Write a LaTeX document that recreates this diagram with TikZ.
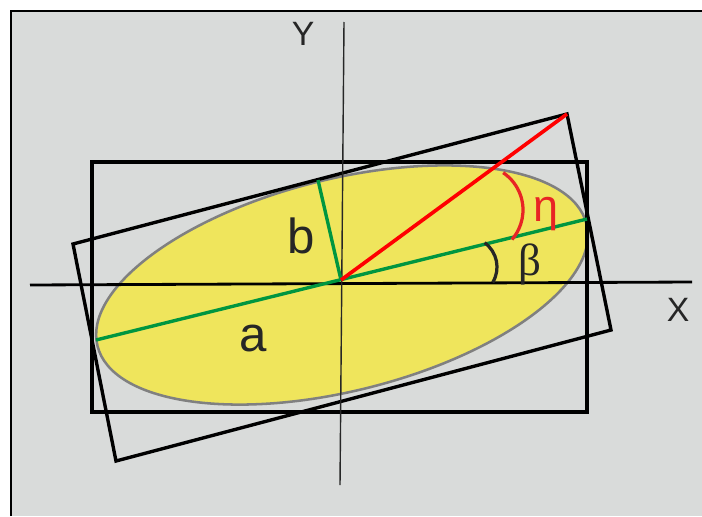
\documentclass[tikz,border=0pt]{standalone}
\usepackage{fontspec}
\setmainfont{Liberation Sans}
\newfontfamily\greekserif{Liberation Serif}
\usetikzlibrary{calc}
\definecolor{panelgray}{RGB}{217,219,218}
\definecolor{ellipseyellow}{RGB}{239,229,92}
\definecolor{axisgreen}{RGB}{0,150,64}
\definecolor{etared}{RGB}{232,36,36}
\definecolor{textdark}{RGB}{38,38,38}

\begin{document}
\begin{tikzpicture}[
    x=0.025cm, y=0.025cm,
    frame/.style={draw=black, line width=2.4pt},
    axisline/.style={draw=black, line width=2pt},
    greenline/.style={draw=axisgreen, line width=2.4pt},
    redline/.style={draw=red, line width=2.6pt},
    anglearc/.style={line width=2.3pt},
    biglabel/.style={inner sep=0pt, text=textdark, font=\fontsize{35}{40}\selectfont},
    axislabel/.style={inner sep=0pt, text=textdark, font=\fontsize{24}{28}\selectfont},
    greeklabel/.style={inner sep=0pt, font=\fontsize{32}{36}\selectfont}
]
  \useasboundingbox (0,0) rectangle (702,516);
  \fill[panelgray] (11,0) rectangle (702,505);
  \draw[line width=1.5pt] (11,0) -- (11,505) -- (702,505);

  \coordinate (ec) at (342,231);
  \draw[fill=ellipseyellow, draw=gray, line width=1.8pt, rotate around={14:(ec)}]
    (ec) ellipse [x radius=252, y radius=106];

  \coordinate (r1) at (73,272);
  \coordinate (r2) at (567,402);
  \coordinate (r3) at (611,186);
  \coordinate (r4) at (116,55);
  \draw[frame] (92,354) rectangle (587,104);
  \draw[frame] (r1) -- (r2) -- (r3) -- (r4) -- cycle;

  \coordinate (xl) at (30,231);
  \coordinate (xr) at (692,234);
  \coordinate (yb) at (340,31);
  \coordinate (yt) at (344,494);
  \draw[axisline] (xl) -- (xr);
  \draw[draw=textdark, line width=1pt] (yb) -- (yt);
  \node[axislabel] (ylab) at (303,482) {Y};
  \node[axislabel] (xlab) at (678,206) {X};

  \coordinate (o) at (341,236);
  \coordinate (aL) at (96,176);
  \coordinate (aR) at (587,297);
  \coordinate (bT) at (318,336);
  \draw[greenline] (aL) -- (aR);
  \draw[greenline] (o) -- (bT);
  \draw[redline] (o) -- (r2);

  \coordinate (etac) at (478,306);
  \coordinate (betac) at (467,249);
  \draw[anglearc, etared] ([shift={(-41:45)}]etac) arc[start angle=-41, end angle=56, radius=45];
  \draw[anglearc, textdark] ([shift={(-31:30)}]betac) arc[start angle=-31, end angle=54, radius=30];

  \node[greeklabel, text=etared] (eta) at (546,302) {η};
  \node[greeklabel, text=textdark, font=\greekserif\fontsize{32}{36}\selectfont] (beta) at (530,252) {β};
  \node[biglabel] (alab) at (253,178) {a};
  \node[biglabel] (blab) at (301,280) {b};
\end{tikzpicture}
\end{document}
